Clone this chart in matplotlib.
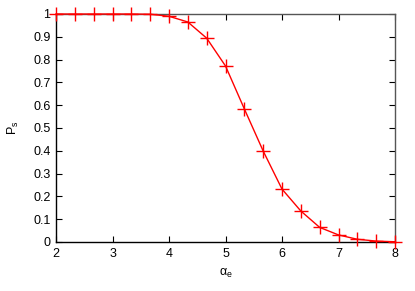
import matplotlib
matplotlib.use("Agg")
import matplotlib.pyplot as plt

alpha_e = [2, 2.333, 2.667, 3, 3.333, 3.667, 4, 4.333, 4.667, 5, 5.333, 5.667,
           6, 6.333, 6.667, 7, 7.333, 7.667, 8]
p_s = [1.0, 1.0, 1.0, 1.0, 1.0, 0.999, 0.99, 0.965, 0.894, 0.772, 0.584, 0.399,
       0.232, 0.136, 0.064, 0.031, 0.012, 0.004, 0.001]
xticks = [2, 3, 4, 5, 6, 7, 8]
yticks = [0, 0.1, 0.2, 0.3, 0.4, 0.5, 0.6, 0.7, 0.8, 0.9, 1]
yticklabels = ["0", "0.1", "0.2", "0.3", "0.4", "0.5", "0.6", "0.7", "0.8", "0.9", "1"]

plt.rcParams['font.family'] = ['Liberation Sans', 'DejaVu Sans']
plt.rcParams['mathtext.fontset'] = 'custom'
plt.rcParams['mathtext.rm'] = 'Liberation Sans'
plt.rcParams['mathtext.it'] = 'Liberation Sans'
fig = plt.figure(figsize=(4.15, 2.91), dpi=100)
ax = fig.add_axes([56/415, 49/291, 339/415, 228/291])
ax.plot(alpha_e, p_s, color='red', lw=1.0, marker='+', markersize=10,
        markeredgewidth=1.0, clip_on=False, zorder=3)
ax.set_xlim(2, 8)
ax.set_ylim(0, 1)
ax.set_xticks(xticks)
ax.set_xticklabels([str(t) for t in xticks])
ax.set_yticks(yticks)
ax.set_yticklabels(yticklabels)
ax.tick_params(direction='in', length=4, width=0.8, labelsize=9,
               top=True, right=True, pad=4, colors='black')
for s in ['left', 'bottom']:
    ax.spines[s].set_linewidth(1.0)
    ax.spines[s].set_color('black')
for s in ['top', 'right']:
    ax.spines[s].set_linewidth(1.0)
    ax.spines[s].set_color('#555555')
ax.set_xlabel(r'$\mathregular{\alpha_e}$', fontsize=9, labelpad=5)
ax.set_ylabel(r'$\mathregular{P_s}$', fontsize=9, labelpad=9)
fig.savefig('out.png', dpi=100)
